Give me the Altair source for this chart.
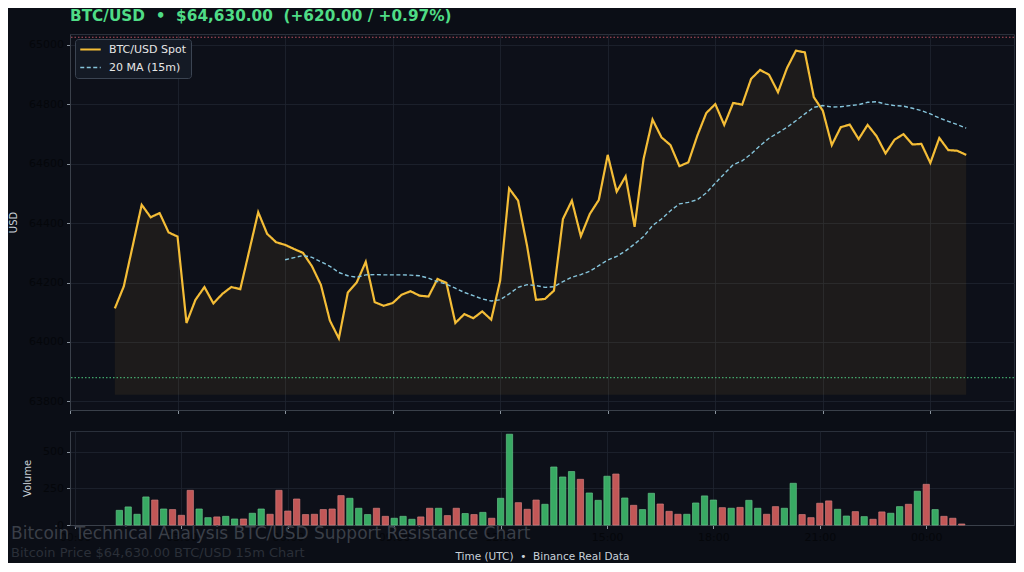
import altair as alt
import pandas as pd

# 15-minute BTC/USD closes, 01:15 -> 01:00 next day
price = [
    64113, 64187, 64324, 64462, 64420, 64434, 64369, 64355, 64064, 64142,
    64185, 64130, 64162, 64185, 64178, 64307, 64437, 64364, 64336, 64327,
    64313, 64300, 64255, 64192, 64072, 64012, 64167, 64201, 64270, 64134,
    64122, 64131, 64159, 64171, 64156, 64153, 64212, 64199, 64064, 64094,
    64080, 64103, 64075, 64207, 64517, 64476, 64324, 64142, 64145, 64173,
    64414, 64476, 64356, 64431, 64478, 64630, 64506, 64558, 64388, 64616,
    64749, 64689, 64663, 64592, 64605, 64695, 64771, 64801, 64731, 64805,
    64799, 64886, 64916, 64900, 64841, 64922, 64981, 64975, 64824, 64779,
    64663, 64723, 64732, 64683, 64731, 64693, 64635, 64681, 64700, 64665,
    64667, 64603, 64687, 64646, 64644, 64630,
]

# 20-period moving average, first value at bar 19
ma20 = [
    64277, 64284, 64291, 64285, 64270, 64255, 64234, 64223, 64218, 64226,
    64227, 64226, 64226, 64226, 64225, 64223, 64215, 64203, 64195, 64181,
    64167, 64156, 64145, 64138, 64142, 64162, 64184, 64193, 64190, 64184,
    64186, 64203, 64218, 64227, 64238, 64257, 64276, 64288, 64307, 64330,
    64355, 64392, 64414, 64442, 64465, 64470, 64479, 64502, 64535, 64566,
    64597, 64610, 64633, 64661, 64686, 64704, 64723, 64745, 64768, 64790,
    64796, 64791, 64792, 64796, 64799, 64807, 64809, 64801, 64796, 64794,
    64787, 64779, 64768, 64754, 64743, 64732, 64720,
]

volume = [
    100, 123, 73, 191, 170, 109, 105, 66, 236, 109,
    50, 55, 59, 41, 41, 80, 109, 73, 236, 95,
    177, 71, 73, 105, 109, 200, 182, 114, 71, 114,
    59, 46, 59, 39, 55, 114, 114, 64, 114, 78,
    71, 86, 46, 182, 618, 152, 107, 170, 141, 395,
    327, 364, 311, 218, 168, 332, 347, 184, 134, 105,
    216, 143, 93, 73, 73, 150, 198, 170, 118, 114,
    120, 168, 114, 73, 125, 114, 284, 71, 50, 148,
    164, 107, 61, 91, 57, 39, 89, 80, 125, 141,
    230, 277, 105, 59, 46, 7,
]

resistance_level = 65026
support_level = 63880
fill_base = 63822

series_names = ["BTC/USD Spot", "20 MA (15m)"]
NB = "\u00a0"
headline = f"BTC/USD{NB}{NB}•{NB}{NB}$64,630.00{NB}{NB}(+620.00 / +0.97%)"
watermark_title = "Bitcoin Technical Analysis BTC/USD Support Resistance Chart"
watermark_sub = "Bitcoin Price $64,630.00 BTC/USD 15m Chart"
x_title = f"Time (UTC){NB}{NB}•{NB}{NB}Binance Real Data"

FONT = "DejaVu Sans"
BG = "#0b0e16"
GOLD = "#f4bd37"
BLUE = "#86c5dc"
GREEN = "#3dbb6c"
RED = "#d65f5e"
GRID = "#1f2530"
DARK_TXT = "#05070b"
LIGHT_TXT = "#c9d1d9"

times = pd.date_range("2024-06-01 01:15", periods=len(price), freq="15min")
df = pd.DataFrame({"time": times, "price": price, "volume": volume})
df["dir"] = ["up" if i == 0 or price[i] >= price[i - 1] else "down" for i in range(len(price))]

ma_df = pd.DataFrame({"time": times[19:], "price": ma20})
lines = pd.concat(
    [
        df[["time", "price"]].assign(series=series_names[0]),
        ma_df.assign(series=series_names[1]),
    ]
)

x_scale = alt.Scale(
    domain=[
        alt.DateTime(year=2024, month=6, date=1, hours=0),
        alt.DateTime(year=2024, month=6, date=2, hours=2, minutes=20),
    ]
)
tick_vals = [alt.DateTime(year=2024, month=6, date=1, hours=h) for h in range(0, 24, 3)]
tick_vals.append(alt.DateTime(year=2024, month=6, date=2, hours=0))


def x_enc(show_labels):
    return alt.X(
        "time:T",
        scale=x_scale,
        axis=alt.Axis(
            values=tick_vals,
            format="%H:%M",
            labels=show_labels,
            title=x_title if show_labels else None,
            titleColor=LIGHT_TXT,
            titleFontSize=10.5,
            titleFontWeight="normal",
            titlePadding=9,
            labelColor=DARK_TXT,
            labelFontSize=11,
            labelPadding=3,
            tickSize=3.5,
        ),
    )


price_y = alt.Y(
    "price:Q",
    scale=alt.Scale(domain=[63771, 65037], nice=False, zero=False),
    axis=alt.Axis(
        values=[63800, 64000, 64200, 64400, 64600, 64800, 65000],
        format="d",
        title="USD",
        titleColor=LIGHT_TXT,
        titleFontSize=10,
        titleFontWeight="normal",
        titlePadding=10,
        labelColor=DARK_TXT,
        labelFontSize=11,
        labelPadding=3,
        tickSize=3.5,
    ),
)

area = alt.Chart(df).mark_area(color=GOLD, opacity=0.07).encode(
    x=x_enc(False), y=price_y, y2=alt.datum(fill_base)
)

resistance = alt.Chart(pd.DataFrame({"level": [resistance_level]})).mark_rule(
    color="#e0606e", strokeDash=[1.5, 2], strokeWidth=1.2, opacity=0.8
).encode(y="level:Q")

support = alt.Chart(pd.DataFrame({"level": [support_level]})).mark_rule(
    color="#4ecb7f", strokeDash=[1.5, 2], strokeWidth=1.2, opacity=0.8
).encode(y="level:Q")

legend_opts = dict(
    title=None,
    orient="top-left",
    offset=5,
    padding=4,
    fillColor="#141a25",
    strokeColor="#3b4452",
    cornerRadius=3,
    labelColor="#e6e6e6",
    labelFontSize=11,
    labelFont=FONT,
    symbolType="stroke",
    symbolSize=420,
    symbolStrokeWidth=2,
    clipHeight=13,
    rowPadding=5,
    labelOffset=7,
)

price_lines = alt.Chart(lines).mark_line().encode(
    x=x_enc(False),
    y="price:Q",
    color=alt.Color(
        "series:N",
        scale=alt.Scale(domain=series_names, range=[GOLD, BLUE]),
        legend=alt.Legend(**legend_opts),
    ),
    strokeDash=alt.StrokeDash(
        "series:N",
        scale=alt.Scale(domain=series_names, range=[[1, 0], [4, 2.5]]),
        legend=alt.Legend(**legend_opts),
    ),
    strokeWidth=alt.StrokeWidth(
        "series:N", scale=alt.Scale(domain=series_names, range=[2.2, 1.4]), legend=None
    ),
)

main = alt.layer(area, resistance, support, price_lines).properties(
    width=944,
    height=376,
    title=alt.TitleParams(
        headline,
        anchor="start",
        frame="group",
        fontSize=15.3,
        fontWeight="bold",
        color="#4fdc86",
        font=FONT,
        offset=10,
    ),
)

bars = alt.Chart(df).mark_bar(size=6.3, opacity=0.9, strokeWidth=0.7).encode(
    x=x_enc(True),
    y=alt.Y(
        "volume:Q",
        scale=alt.Scale(domain=[0, 640], nice=False),
        axis=alt.Axis(
            values=[0, 250, 500],
            title="Volume",
            titleColor=LIGHT_TXT,
            titleFontSize=10,
            titleFontWeight="normal",
            titlePadding=10,
            labelColor=DARK_TXT,
            labelFontSize=11,
            labelPadding=3,
            tickSize=3.5,
        ),
    ),
    color=alt.Color(
        "dir:N", scale=alt.Scale(domain=["up", "down"], range=[GREEN, RED]), legend=None
    ),
    stroke=alt.Stroke(
        "dir:N",
        scale=alt.Scale(domain=["up", "down"], range=["#6fd494", "#e88a88"]),
        legend=None,
    ),
)

wm1 = alt.Chart(pd.DataFrame({"t": [watermark_title]})).mark_text(
    align="left", baseline="middle", fontSize=17, color="#3a3f48", font=FONT
).encode(x=alt.value(-59), y=alt.value(103), text="t:N")

wm2 = alt.Chart(pd.DataFrame({"t": [watermark_sub]})).mark_text(
    align="left", baseline="middle", fontSize=13, color="#2a2f38", font=FONT
).encode(x=alt.value(-59), y=alt.value(122), text="t:N")

vol = alt.layer(bars, wm1, wm2).resolve_scale(color="independent").properties(
    width=944, height=94
)

chart = (
    alt.vconcat(main, vol, spacing=15)
    .properties(background=BG, padding={"left": 0, "top": 0, "right": 0, "bottom": 0})
    .configure(font=FONT)
    .configure_view(fill="#0d1019", stroke="#2a303b")
    .configure_axis(
        gridColor=GRID,
        gridWidth=0.8,
        domainColor="#3a404a",
        tickColor="#8b949e",
        labelFont=FONT,
        titleFont=FONT,
    )
)

chart.save("out.html", embed_options={"renderer": "svg", "actions": False})
